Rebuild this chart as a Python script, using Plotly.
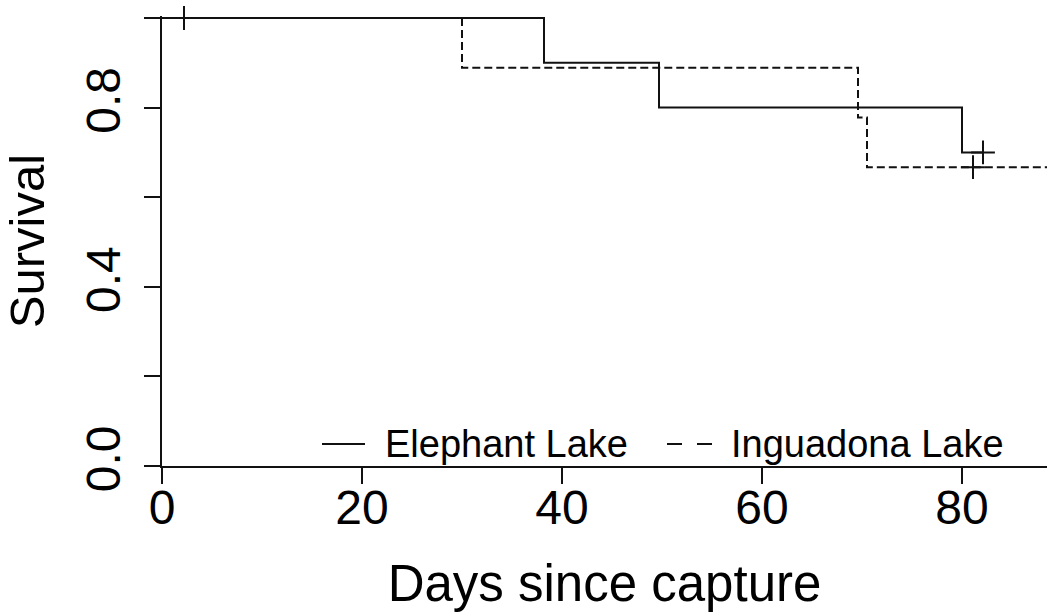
import plotly.graph_objects as go

# ---- data ----
elephant_step_days = [0, 38.2, 49.7, 80.0, 82.1]
elephant_step_surv = [1.0, 0.9, 0.8, 0.7, 0.7]
elephant_censor_days = [2.2, 82.1]
elephant_censor_surv = [1.0, 0.7]

inguadona_step_days = [0, 30.0, 69.6, 70.5, 95.0]
inguadona_step_surv = [1.0, 0.889, 0.778, 0.667, 0.667]
inguadona_censor_days = [81.1, 95.0]
inguadona_censor_surv = [0.667, 0.667]

y_tickvals = [0.0, 0.2, 0.4, 0.6, 0.8, 1.0]
y_ticktext = ["0.0", "", "0.4", "", "0.8", ""]
x_tickvals = [0, 20, 40, 60, 80]
x_ticktext = ["0", "20", "40", "60", "80"]

series_names = ["Elephant Lake", "Inguadona Lake"]

FONT = "Liberation Sans, Arial, sans-serif"
INK = "#111111"

fig = go.Figure()

fig.add_trace(go.Scatter(
    x=elephant_step_days, y=elephant_step_surv, mode="lines",
    line=dict(color=INK, width=2, shape="hv"), name=series_names[0],
    showlegend=False))
fig.add_trace(go.Scatter(
    x=inguadona_step_days, y=inguadona_step_surv, mode="lines",
    line=dict(color=INK, width=2, shape="hv", dash="8px,4px"), name=series_names[1],
    showlegend=False))
fig.add_trace(go.Scatter(
    x=elephant_censor_days, y=elephant_censor_surv, mode="markers",
    marker=dict(symbol="cross-thin", size=17, line=dict(color=INK, width=2)),
    showlegend=False, cliponaxis=False))
fig.add_trace(go.Scatter(
    x=inguadona_censor_days, y=inguadona_censor_surv, mode="markers",
    marker=dict(symbol="cross-thin", size=17, line=dict(color=INK, width=2)),
    showlegend=False, cliponaxis=True))

# ---- legend drawn inside the plot (paper coords) ----
W_PLOT = 1047 - 162
H_PLOT = 466 - 16

def px(x):
    return (x - 162) / W_PLOT

def py(y):
    return (466 - y) / H_PLOT

leg_y = py(444)
fig.add_shape(type="line", xref="paper", yref="paper", x0=px(322), x1=px(365),
              y0=leg_y, y1=leg_y, line=dict(color=INK, width=2))
fig.add_shape(type="line", xref="paper", yref="paper", x0=px(667), x1=px(712),
              y0=leg_y, y1=leg_y, line=dict(color=INK, width=2, dash="15px,15px"))
fig.add_annotation(xref="paper", yref="paper", x=px(383), y=leg_y, text=series_names[0],
                   showarrow=False, xanchor="left", yanchor="middle",
                   font=dict(family=FONT, size=38, color="black"))
fig.add_annotation(xref="paper", yref="paper", x=px(729), y=leg_y, text=series_names[1],
                   showarrow=False, xanchor="left", yanchor="middle",
                   font=dict(family=FONT, size=38, color="black"))

fig.update_layout(
    width=1047, height=612,
    margin=dict(l=162, r=0, t=16, b=146),
    paper_bgcolor="white", plot_bgcolor="white",
    font=dict(family=FONT, color="black"),
    showlegend=False,
)
fig.update_xaxes(
    range=[0, 88.5], tickvals=x_tickvals, ticktext=x_ticktext,
    showgrid=False, zeroline=False, showline=True, linecolor=INK, linewidth=1.6,
    ticks="outside", ticklen=16, tickwidth=1.6, tickcolor=INK,
    ticklabelstandoff=-17,
    tickfont=dict(family=FONT, size=48, color="black"),
    title=dict(text="Days since capture", font=dict(family=FONT, size=51, color="black"), standoff=34),
)
fig.update_yaxes(
    range=[0, (466 - 16) / 448], tickvals=y_tickvals, ticktext=y_ticktext,
    showgrid=False, zeroline=False, showline=True, linecolor=INK, linewidth=1.6,
    ticks="outside", ticklen=16, tickwidth=1.6, tickcolor=INK, tickangle=-90,
    ticklabelstandoff=5,
    tickfont=dict(family=FONT, size=48, color="black"),
    title=dict(text="Survival", font=dict(family=FONT, size=49, color="black"), standoff=17),
)

fig.write_html("out.html")
